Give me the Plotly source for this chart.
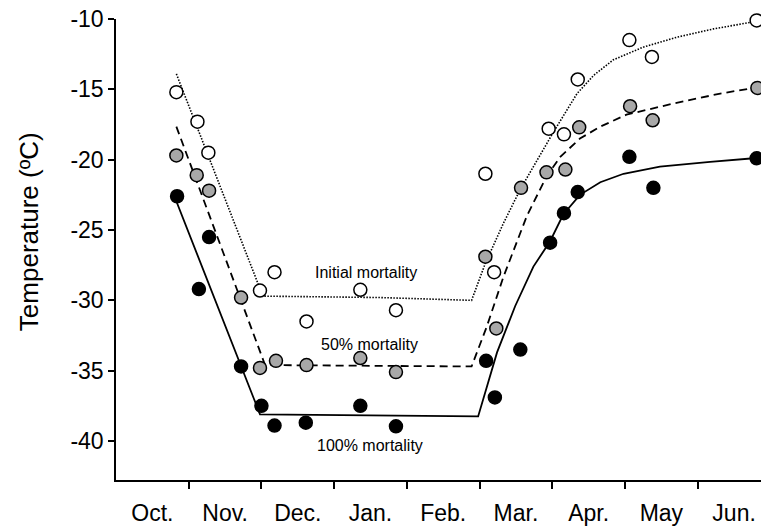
import plotly.graph_objects as go

# x in months after Oct. 1 (0 = Oct. 1, 1 = Nov. 1, ...)
months = ["Oct.", "Nov.", "Dec.", "Jan.", "Feb.", "Mar.", "Apr.", "May", "Jun."]
month_pos = [0.5, 1.5, 2.5, 3.5, 4.5, 5.5, 6.5, 7.5, 8.5]
month_edges = [1, 2, 3, 4, 5, 6, 7, 8]
y_ticks = [-40, -35, -30, -25, -20, -15, -10]

# observed points
init_x = [0.83, 1.12, 1.27, 2.18, 1.98, 2.62, 3.36, 3.85, 5.08, 5.20, 5.95, 6.16, 6.35, 7.06, 7.37, 8.81]
init_y = [-15.2, -17.3, -19.5, -28.0, -29.3, -31.5, -29.25, -30.7, -21.0, -28.0, -17.8, -18.2, -14.3, -11.5, -12.7, -10.1]

half_x = [0.83, 1.11, 1.28, 1.72, 1.98, 2.20, 2.62, 3.36, 3.85, 5.08, 5.23, 5.57, 5.92, 6.18, 6.37, 7.07, 7.38, 8.82]
half_y = [-19.7, -21.1, -22.2, -29.8, -34.8, -34.3, -34.6, -34.1, -35.1, -26.9, -32.0, -22.0, -20.9, -20.7, -17.7, -16.2, -17.2, -14.9]

full_x = [0.84, 1.14, 1.28, 1.72, 2.00, 2.18, 2.61, 3.36, 3.85, 5.09, 5.21, 5.56, 5.97, 6.16, 6.35, 7.06, 7.39, 8.81]
full_y = [-22.6, -29.2, -25.5, -34.7, -37.5, -38.9, -38.7, -37.5, -38.95, -34.3, -36.9, -33.5, -25.9, -23.8, -22.3, -19.8, -22.0, -19.9]

# fitted curves
init_fit_x = [0.83, 2.02, 3.63, 4.89, 5.08, 5.33, 5.56, 5.79, 6.02, 6.34, 6.57, 6.84, 7.25, 7.71, 8.22, 8.77]
init_fit_y = [-13.9, -29.7, -29.8, -30.0, -27.35, -24.5, -22.1, -20.0, -18.0, -15.3, -14.0, -12.9, -12.0, -11.3, -10.7, -10.2]

half_fit_x = [0.83, 2.05, 4.89, 5.10, 5.33, 5.65, 5.92, 6.11, 6.38, 6.66, 7.02, 7.67, 8.31, 8.77]
half_fit_y = [-17.65, -34.6, -34.7, -31.85, -28.3, -24.0, -21.2, -19.8, -18.5, -17.65, -16.8, -16.0, -15.3, -14.9]

full_fit_x = [0.78, 1.98, 4.98, 5.24, 5.49, 5.74, 5.97, 6.15, 6.38, 6.66, 6.98, 7.48, 8.17, 8.77]
full_fit_y = [-22.3, -38.1, -38.25, -33.7, -30.4, -27.6, -25.8, -23.9, -22.5, -21.6, -21.0, -20.5, -20.15, -19.9]

labels = ["Initial mortality", "50% mortality", "100% mortality"]
label_x = [3.44, 3.49, 3.49]
label_y = [-28.0, -33.15, -40.3]

FONT = "Arial, Liberation Sans, sans-serif"

fig = go.Figure()

fig.add_trace(go.Scatter(x=init_fit_x, y=init_fit_y, mode="lines",
                         line=dict(color="black", width=1.6, dash="1.5px,1.5px"),
                         showlegend=False, hoverinfo="skip"))
fig.add_trace(go.Scatter(x=half_fit_x, y=half_fit_y, mode="lines",
                         line=dict(color="black", width=1.8, dash="8px,5px"),
                         showlegend=False, hoverinfo="skip"))
fig.add_trace(go.Scatter(x=full_fit_x, y=full_fit_y, mode="lines",
                         line=dict(color="black", width=1.8),
                         showlegend=False, hoverinfo="skip"))

for xs, ys, col in [(init_x, init_y, "white"),
                    (half_x, half_y, "#a8a8a8"),
                    (full_x, full_y, "black")]:
    fig.add_trace(go.Scatter(x=xs, y=ys, mode="markers",
                             marker=dict(size=13, color=col,
                                         line=dict(color="black", width=1.5)),
                             cliponaxis=False, showlegend=False))

for t, ax, ay in zip(labels, label_x, label_y):
    fig.add_annotation(x=ax, y=ay, text=t, showarrow=False,
                       font=dict(size=16, color="black", family=FONT))

fig.add_annotation(xref="paper", yref="paper", x=-0.161, y=0.538,
                   text="Temperature (ºC)", textangle=-90, showarrow=False,
                   font=dict(size=26, color="black", family=FONT))

fig.update_layout(
    width=761, height=527,
    margin=dict(l=116, r=0, t=19, b=47),
    plot_bgcolor="white", paper_bgcolor="white",
    font=dict(family=FONT, color="black"),
    xaxis=dict(range=[0, 8.87], showgrid=False, zeroline=False,
               showline=True, linecolor="black", linewidth=1.5,
               tickmode="array", tickvals=month_pos, ticktext=months,
               ticks="outside", ticklen=12, tickcolor="rgba(0,0,0,0)",
               tickfont=dict(size=23, family=FONT), automargin=False,
               minor=dict(tickmode="array", tickvals=month_edges, ticks="outside",
                          ticklen=7, tickwidth=1.5, tickcolor="black",
                          showgrid=False)),
    yaxis=dict(range=[-42.77, -10], showgrid=False, zeroline=False,
               showline=True, linecolor="black", linewidth=1.5,
               tickmode="array", tickvals=y_ticks,
               ticktext=[str(v) for v in y_ticks],
               ticks="outside", ticklen=6, tickwidth=1.5, tickcolor="black",
               tickfont=dict(size=23, family=FONT), automargin=False),
)

fig.write_html("out.html", config={"displayModeBar": False},
               post_script="document.body.style.margin='0';document.body.style.overflow='hidden';")
